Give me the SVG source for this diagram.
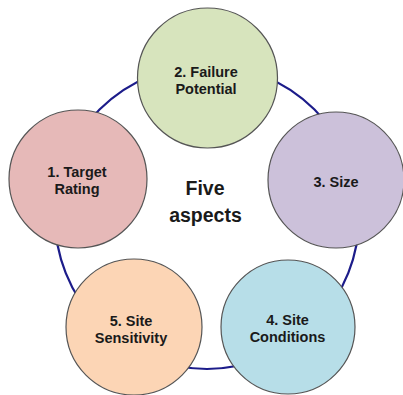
<svg xmlns="http://www.w3.org/2000/svg" width="403" height="395" viewBox="0 0 403 395">
<style>
.node{stroke:#555555;stroke-width:1.2}
.lbl{font-family:"Liberation Sans",Arial,sans-serif;font-weight:bold;font-size:14.5px;fill:#1a1a1a;text-anchor:middle}
.center{font-family:"Liberation Sans",Arial,sans-serif;font-weight:bold;font-size:19.5px;fill:#1a1a1a;text-anchor:middle}
.ring{fill:none;stroke:#1c1c8a;stroke-width:2.2}
</style>
<rect width="403" height="395" fill="#ffffff"/>
<g id="connectors">
<circle class="ring" cx="207" cy="217" r="152"/>
</g>
<g id="node2">
<circle class="node" cx="207.5" cy="78" r="70" fill="#d7e4bd"/>
<text class="lbl" x="206" y="77">2. Failure</text>
<text class="lbl" x="206" y="94">Potential</text>
</g>
<g id="node1">
<circle class="node" cx="78" cy="179" r="69" fill="#e6b9b8"/>
<text class="lbl" x="77" y="177">1. Target</text>
<text class="lbl" x="77" y="194">Rating</text>
</g>
<g id="node3">
<circle class="node" cx="336" cy="180" r="68" fill="#ccc1da"/>
<text class="lbl" x="336" y="187">3. Size</text>
</g>
<g id="node4">
<circle class="node" cx="288" cy="327" r="67" fill="#b7dee8"/>
<text class="lbl" x="287.5" y="325">4. Site</text>
<text class="lbl" x="287.5" y="342">Conditions</text>
</g>
<g id="node5">
<circle class="node" cx="134" cy="327" r="68" fill="#fcd5b5"/>
<text class="lbl" x="131" y="326">5. Site</text>
<text class="lbl" x="131" y="343">Sensitivity</text>
</g>
<g id="center">
<text class="center" x="205" y="195">Five</text>
<text class="center" x="205.5" y="222">aspects</text>
</g>
</svg>
